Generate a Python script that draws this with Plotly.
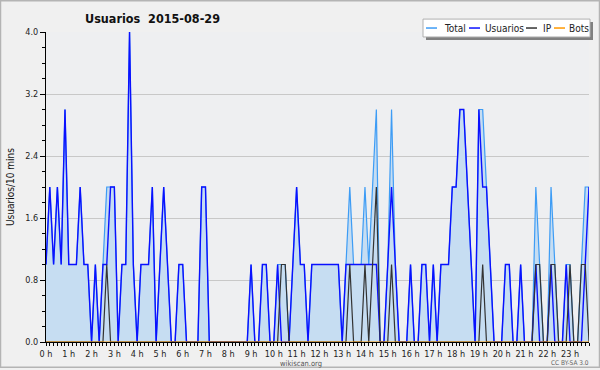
import plotly.graph_objects as go

# 10-minute slots over the day (0 = 00:00 ... 143 = 23:50)
slots = list(range(144))

usuarios = [1, 2, 1, 2, 1, 3, 1, 1, 1, 2, 1, 1, 0, 1, 0, 1, 1, 2, 2, 0, 1, 1, 4, 1,
            0, 1, 1, 1, 2, 0, 1, 2, 1, 0, 0, 1, 1, 0, 0, 0, 0, 2, 2, 0, 0, 0, 0, 0,
            0, 0, 0, 0, 0, 0, 1, 0, 0, 1, 1, 0, 0, 1, 0, 0, 0, 1, 2, 1, 1, 0, 1, 1,
            1, 1, 1, 1, 1, 1, 0, 1, 1, 1, 1, 1, 1, 1, 1, 1, 0, 0, 1, 2, 1, 0, 0, 0,
            1, 0, 0, 1, 1, 0, 1, 0, 1, 1, 1, 2, 2, 3, 3, 2, 1, 0, 3, 2, 2, 1, 0, 0,
            0, 1, 1, 0, 0, 1, 0, 0, 0, 1, 0, 0, 0, 1, 0, 0, 0, 1, 0, 0, 0, 0, 1, 2]

ip = [0] * 144
ip_nonzero = {16: 1, 62: 1, 63: 1, 80: 1, 84: 1, 86: 1, 87: 2, 91: 1, 115: 1,
              129: 1, 130: 1, 133: 1, 134: 1, 138: 1, 141: 1, 142: 1}
for k, v in ip_nonzero.items():
    ip[k] = v

bots = [0] * 144
total = [u + i + b for u, i, b in zip(usuarios, ip, bots)]

hour_ticks = list(range(0, 144, 6))
hour_labels = [f"{h} h" for h in range(24)]
y_ticks = [0.0, 0.8, 1.6, 2.4, 3.2, 4.0]
y_labels = ["0.0", "0.8", "1.6", "2.4", "3.2", "4.0"]

series_names = ["Total", "Usuarios", "IP", "Bots"]
series_colors = ["#3d9cf5", "#0a10ff", "#333333", "#ff9900"]

W, H = 600, 370
L, R, T, B = 46, 11, 32, 26
PW, PH = W - L - R, H - T - B


def px(x):
    return (x - L) / PW


def py(y):
    return (H - B - y) / PH


FONT = "DejaVu Sans Condensed, Liberation Sans, DejaVu Sans, sans-serif"

fig = go.Figure()
fig.add_trace(go.Scatter(x=slots, y=total, name="Total", mode="lines",
                         line=dict(color=series_colors[0], width=1.2),
                         fill="tozeroy", fillcolor="#c6ddf2"))
fig.add_trace(go.Scatter(x=slots, y=usuarios, name="Usuarios", mode="lines",
                         line=dict(color=series_colors[1], width=1.4)))
fig.add_trace(go.Scatter(x=slots, y=ip, name="IP", mode="lines",
                         line=dict(color=series_colors[2], width=1.2)))
fig.add_trace(go.Scatter(x=slots, y=bots, name="Bots", mode="lines",
                         line=dict(color=series_colors[3], width=1)))

shapes = []
annotations = []

# outer border
shapes.append(dict(type="rect", xref="paper", yref="paper",
                   x0=px(0.5), x1=px(W - 0.5), y0=py(H - 0.5), y1=py(0.5),
                   line=dict(color="#b4b4b4", width=1.5), fillcolor="rgba(0,0,0,0)",
                   layer="above"))

# manual legend box with shadow
shapes.append(dict(type="rect", xref="paper", yref="paper",
                   x0=px(426), x1=px(593), y0=py(40), y1=py(22),
                   line=dict(width=0), fillcolor="#808080", layer="above"))
shapes.append(dict(type="rect", xref="paper", yref="paper",
                   x0=px(423), x1=px(590), y0=py(37), y1=py(19),
                   line=dict(color="#b0b0b0", width=1), fillcolor="#ffffff", layer="above"))
leg_line_x = [426, 469, 526, 554]
leg_text_x = [442, 483, 541, 567]
for name, col, lx, tx in zip(series_names, series_colors, leg_line_x, leg_text_x):
    shapes.append(dict(type="line", xref="paper", yref="paper",
                       x0=px(lx), x1=px(lx + 11), y0=py(28), y1=py(28),
                       line=dict(color=col, width=1.5), layer="above"))
    annotations.append(dict(text=name, xref="paper", yref="paper",
                            x=px(tx), y=py(28), xanchor="left", yanchor="middle",
                            showarrow=False, font=dict(family=FONT, size=10, color="#222")))

annotations.append(dict(text="Usuarios/10 mins", xref="paper", yref="paper",
                        x=px(10), y=0.5, textangle=-90, showarrow=False,
                        xanchor="center", yanchor="middle",
                        font=dict(family=FONT, size=10, color="#111")))
annotations.append(dict(text="wikiscan.org", xref="paper", yref="paper",
                        x=px(301), y=py(365.5), showarrow=False,
                        xanchor="center", yanchor="middle",
                        font=dict(family=FONT, size=7.5, color="#555")))
annotations.append(dict(text="CC BY-SA 3.0", xref="paper", yref="paper",
                        x=px(591), y=py(365), showarrow=False,
                        xanchor="right", yanchor="middle",
                        font=dict(family=FONT, size=6.5, color="#666")))

fig.update_layout(
    width=W, height=H,
    margin=dict(l=L, r=R, t=T, b=B),
    paper_bgcolor="#f0f0f0", plot_bgcolor="#eeeff1",
    showlegend=False,
    title=dict(text="<b>Usuarios  2015-08-29</b>", x=85 / W, xanchor="left",
               y=1 - 18.5 / H, yanchor="middle",
               font=dict(family=FONT, size=12.5, color="#111")),
    shapes=shapes, annotations=annotations,
    xaxis=dict(range=[0, 143], tickmode="array", tickvals=hour_ticks, ticktext=hour_labels,
               ticks="outside", ticklen=3, tickcolor="#000", showgrid=False, zeroline=False,
               showline=True, linecolor="#000", linewidth=1,
               tickfont=dict(family=FONT, size=9, color="#222"),
               minor=dict(dtick=1, ticks="outside", ticklen=3, tickcolor="#000", showgrid=False),
               fixedrange=True),
    yaxis=dict(range=[0, 4], tickmode="array", tickvals=y_ticks, ticktext=y_labels,
               ticks="outside", ticklen=5, tickcolor="#000", showgrid=True,
               gridcolor="#c8c8c8", gridwidth=1, zeroline=False,
               showline=True, linecolor="#000", linewidth=1,
               tickfont=dict(family=FONT, size=9, color="#222"),
               minor=dict(dtick=0.2, tick0=0, ticks="outside", ticklen=3, tickcolor="#000",
                          showgrid=False),
               fixedrange=True),
)

fig.write_html("out.html", config={"displayModeBar": False},
               post_script="document.body.style.margin='0';document.body.style.overflow='hidden';")
